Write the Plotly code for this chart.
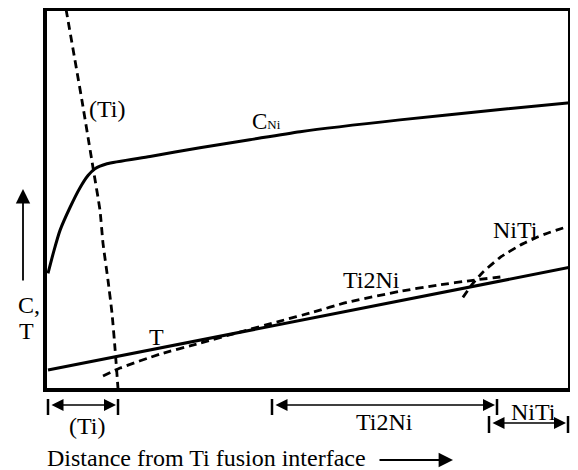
import plotly.graph_objects as go

# Schematic data (x: distance 0-100, y: C,T 0-100)
cni_x = [0.57, 1.71, 2.86, 4.76, 6.67, 8.19, 9.52, 11.8, 20.0, 29.5, 39.0, 48.6, 67.6, 86.7, 100.0]
cni_y = [30.6, 36.6, 41.9, 47.9, 53.1, 56.3, 58.1, 59.4, 61.3, 63.6, 65.7, 67.8, 70.9, 73.6, 75.4]

ti_x = [4.0, 7.05, 9.14, 10.48, 11.05, 12.0, 12.76, 13.33, 13.9]
ti_y = [100.0, 75.9, 58.4, 47.1, 38.5, 28.8, 20.2, 11.0, 0.5]

t_x = [0.57, 100.0]
t_y = [5.24, 32.2]

ti2ni_x = [11.05, 14.29, 21.9, 29.5, 37.1, 44.8, 51.0, 57.5, 67.6, 74.7, 81.5, 87.6]
ti2ni_y = [3.66, 5.76, 9.42, 12.3, 15.2, 18.1, 20.4, 23.0, 25.9, 27.5, 28.8, 29.8]

niti_x = [79.6, 81.5, 83.4, 86.7, 90.5, 93.7, 96.2, 99.6]
niti_y = [24.3, 28.0, 30.9, 34.8, 38.0, 40.1, 41.4, 42.9]

# in-plot labels (text, x, y)
curve_labels = [("(Ti)", 11.8, 73.8), ("T", 21.3, 14.0), ("Ti2Ni", 62.1, 28.8), ("NiTi", 89.7, 42.1)]
cni_label = (42.1, 70.4)

# zone spans along the distance axis (page pixel columns) and their labels
zone_names = ["(Ti)", "Ti2Ni", "NiTi"]
zone_start = [48, 272, 489]
zone_end = [118, 497, 568]

FONT = "Liberation Serif"
# the page body has an 8px margin; the figure is sized to fit the remaining window
OFF = 8
W, H = 578 - OFF, 470 - OFF
FL, FR, FT, FB = 45, 570, 9, 390          # frame (page pixels)
ML, MT = FL - OFF, FT - OFF
MR, MB = W - (FR - OFF), H - (FB - OFF)
PW, PH = FR - FL, FB - FT

def py(pix):  # page pixel row -> paper y
    return (FB - pix) / PH

def px(pix):  # page pixel col -> paper x
    return (pix - FL) / PW

def label(x, y, text, size=24, xanchor="center", **kw):
    return dict(x=x, y=y, text=text, showarrow=False, xanchor=xanchor, yanchor="middle",
                font=dict(family=FONT, size=size, color="black"), **kw)

fig = go.Figure()
solid = dict(color="black", width=3)
dashed = dict(color="black", width=2.8, dash="8px,5px")
fig.add_trace(go.Scatter(x=cni_x, y=cni_y, mode="lines", line=dict(shape="spline", smoothing=0.6, **solid)))
fig.add_trace(go.Scatter(x=t_x, y=t_y, mode="lines", line=solid))
fig.add_trace(go.Scatter(x=ti_x, y=ti_y, mode="lines", line=dict(shape="spline", smoothing=0.5, **dashed)))
fig.add_trace(go.Scatter(x=ti2ni_x, y=ti2ni_y, mode="lines", line=dict(shape="spline", smoothing=0.5, **dashed)))
fig.add_trace(go.Scatter(x=niti_x, y=niti_y, mode="lines", line=dict(shape="spline", smoothing=0.5, **dashed)))

ann = []
shapes = []
for txt, x, y in curve_labels:
    ann.append(label(x, y, txt, xref="x", yref="y"))
ann.append(label(cni_label[0], cni_label[1], "C<span style='font-size:13px'>Ni</span>", size=23,
                 xref="x", yref="y"))

# zone arrows below the axis
rows = [(405, 399, 415, 426), (405, 399, 415, 422), (423, 416, 433, 412)]
for name, xs, xe, (yarr, ytop, ybot, ylab) in zip(zone_names, zone_start, zone_end, rows):
    for xx in (xs, xe):
        shapes.append(dict(type="line", xref="paper", yref="paper", x0=px(xx), x1=px(xx),
                           y0=py(ytop), y1=py(ybot), line=dict(color="black", width=2.5)))
    ann.append(dict(x=px(xe - 2), y=py(yarr), xref="paper", yref="paper", text="", showarrow=True,
                    axref="pixel", ayref="pixel", ax=-(xe - xs - 4), ay=0,
                    arrowside="end+start", arrowhead=2, arrowsize=1.5, arrowwidth=1.6, arrowcolor="black"))
    lx = (xs + xe) / 2 + (0 if name != "NiTi" else 5)
    if name == "(Ti)":
        lx = 87
    ann.append(label(px(lx), py(ylab), name, xref="paper", yref="paper"))

# axis title below
ann.append(label(px(45), py(458), "Distance from Ti fusion interface", xanchor="left",
                 xref="paper", yref="paper"))
ann.append(dict(x=px(453), y=py(460), xref="paper", yref="paper", text="", showarrow=True,
                axref="pixel", ayref="pixel", ax=-75, ay=0, arrowhead=2, arrowsize=1.6,
                arrowwidth=1.8, arrowcolor="black"))

# vertical axis label with up arrow
ann.append(dict(x=px(23), y=py(189), xref="paper", yref="paper", text="", showarrow=True,
                axref="pixel", ayref="pixel", ax=0, ay=93, arrowhead=2, arrowsize=1.6,
                arrowwidth=1.8, arrowcolor="black"))
ann.append(label(px(16), py(305), "C,", xanchor="left", xref="paper", yref="paper"))
ann.append(label(px(17), py(331), "T", xanchor="left", xref="paper", yref="paper"))

# frame
shapes.append(dict(type="rect", xref="paper", yref="paper", x0=0, x1=1, y0=0, y1=1,
                   line=dict(color="black", width=4)))

fig.update_layout(
    width=W, height=H, margin=dict(l=ML, r=MR, t=MT, b=MB, pad=0),
    paper_bgcolor="white", plot_bgcolor="white", showlegend=False,
    xaxis=dict(range=[0, 100], visible=False),
    yaxis=dict(range=[0, 100], visible=False),
    annotations=ann, shapes=shapes,
)
fig.write_html("out.html")
